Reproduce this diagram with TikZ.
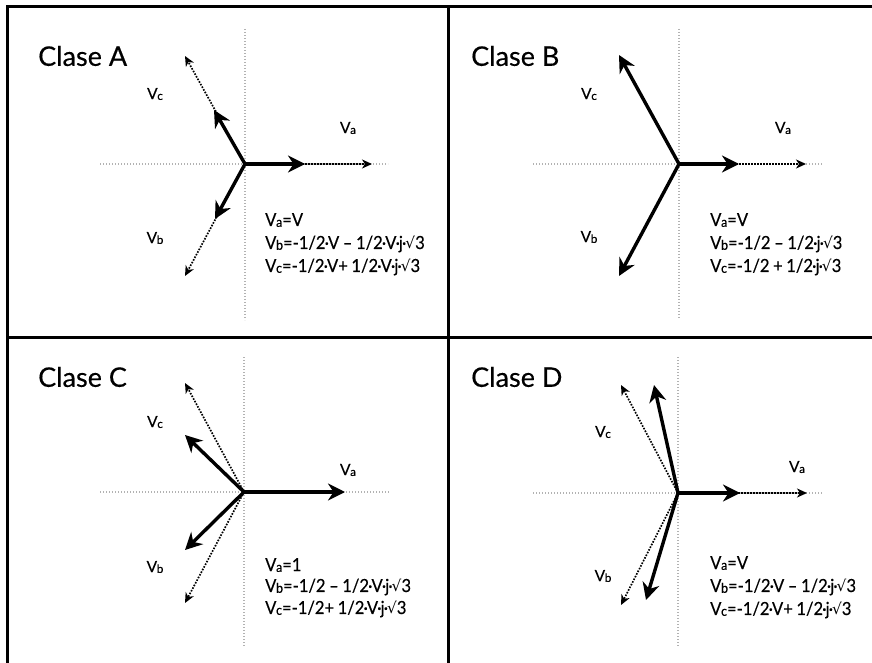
\documentclass[tikz,border=0pt]{standalone}
\usepackage{fontspec}
\setmainfont{Lato}[FakeBold=0.35]
\newfontfamily\eqfont{Lato}[FakeBold=0.35, FakeStretch=0.92]
\newfontfamily\symfont{DejaVu Sans}
\usetikzlibrary{arrows.meta}
\newcommand\Vsub[1]{V\kern-0.3pt\raisebox{-0.8pt}{\scalebox{0.75}{#1}}}
\newcommand\sqr{{\symfont\scalebox{0.85}{√}}}
\newcommand\md{\kern-0.9pt·\kern-0.9pt}
\newcommand\eqsetup{\eqfont\fontsize{18}{22}\selectfont\spaceskip 0.2em\relax}
\tikzset{
  frame/.style={line width=3pt, line cap=rect},
  axis/.style={gray!60, line width=1.1pt, dash pattern=on 1.1pt off 1.9pt},
  vsolid/.style={line width=3.4pt, -{Stealth[length=17pt,width=17pt,inset=5.5pt]}},
  vdot/.style={line width=1.7pt, dash pattern=on 1.6pt off 1.4pt, -{Stealth[length=10pt,width=9pt,inset=3pt]}},
  title/.style={anchor=west, inner sep=0pt, font=\fontsize{27}{30}\selectfont},
  vlab/.style={inner sep=0pt, font=\fontsize{15.5}{17}\selectfont},
  eq/.style={anchor=west, inner sep=0pt, font=\eqsetup},
}
\begin{document}
\begin{tikzpicture}[x=1pt,y=-1pt]
\useasboundingbox (0,0) rectangle (872,663);
% frame
\coordinate (tl) at (7,7);
\coordinate (tr) at (872,7);
\coordinate (bl) at (7,663);
\coordinate (mt) at (448,7);
\coordinate (mb) at (448,663);
\coordinate (ml) at (7,337);
\coordinate (mr) at (872,337);
\draw[frame] (tl) -- (tr);
\draw[frame] (tl) -- (bl);
\draw[frame] (mt) -- (mb);
\draw[frame] (ml) -- (mr);

% ---------- Panel A ----------
\coordinate (Ao) at (245,164);
\coordinate (Ah1) at (100,164); \coordinate (Ah2) at (388,164);
\coordinate (Av1) at (245,29);  \coordinate (Av2) at (245,320);
\draw[axis] (Ah1) -- (Ah2);
\draw[axis] (Av1) -- (Av2);
\coordinate (AaD) at (372,164); \coordinate (AaS) at (305,164);
\coordinate (AcD) at (185,56);  \coordinate (AcS) at (214,110);
\coordinate (AbD) at (185,276); \coordinate (AbS) at (215,219);
\draw[vdot] (Ao) -- (AaD);
\draw[vdot] (Ao) -- (AcD);
\draw[vdot] (Ao) -- (AbD);
\draw[vsolid] (Ao) -- (AaS);
\draw[vsolid] (Ao) -- (AcS);
\draw[vsolid] (Ao) -- (AbS);
\node[title] (Atitle) at (38,56) {Clase A};
\node[vlab] (Alc) at (155,94) {\Vsub{c}};
\node[vlab] (Ala) at (348,128) {\Vsub{a}};
\node[vlab] (Alb) at (155,238) {\Vsub{b}};
\node[eq] (Ae1) at (265,220) {\Vsub{a}=V};
\node[eq] (Ae2) at (265,244) {\Vsub{b}=-1/2\md V – 1/2\md V\md j\md\sqr3};
\node[eq] (Ae3) at (265,267) {\Vsub{c}=-1/2\md V+ 1/2\md V\md j\md\sqr3};

% ---------- Panel B ----------
\coordinate (Bo) at (679,164);
\coordinate (Bh1) at (533,164); \coordinate (Bh2) at (823,164);
\coordinate (Bv1) at (679,29);  \coordinate (Bv2) at (679,318);
\draw[axis] (Bh1) -- (Bh2);
\draw[axis] (Bv1) -- (Bv2);
\coordinate (BaD) at (806,164); \coordinate (BaS) at (739,164);
\coordinate (BcS) at (619,55);
\coordinate (BbS) at (619,276);
\draw[vdot] (Bo) -- (BaD);
\draw[vsolid] (Bo) -- (BaS);
\draw[vsolid] (Bo) -- (BcS);
\draw[vsolid] (Bo) -- (BbS);
\node[title] (Btitle) at (471,56) {Clase B};
\node[vlab] (Blc) at (589,94) {\Vsub{c}};
\node[vlab] (Bla) at (783,128) {\Vsub{a}};
\node[vlab] (Blb) at (589,237) {\Vsub{b}};
\node[eq] (Be1) at (710,220) {\Vsub{a}=V};
\node[eq] (Be2) at (710,244) {\Vsub{b}=-1/2 – 1/2\md j\md\sqr3};
\node[eq] (Be3) at (710,267) {\Vsub{c}=-1/2 + 1/2\md j\md\sqr3};

% ---------- Panel C ----------
\coordinate (Co) at (244,492);
\coordinate (Ch1) at (100,492); \coordinate (Ch2) at (390,492);
\coordinate (Cv1) at (244,357); \coordinate (Cv2) at (244,647);
\draw[axis] (Ch1) -- (Ch2);
\draw[axis] (Cv1) -- (Cv2);
\coordinate (CaS) at (345,492);
\coordinate (CcD) at (185,383); \coordinate (CcS) at (185,435);
\coordinate (CbD) at (185,603); \coordinate (CbS) at (185,550);
\draw[vdot] (Co) -- (CcD);
\draw[vdot] (Co) -- (CbD);
\draw[vsolid] (Co) -- (CaS);
\draw[vsolid] (Co) -- (CcS);
\draw[vsolid] (Co) -- (CbS);
\node[title] (Ctitle) at (38,377) {Clase C};
\node[vlab] (Clc) at (155,422) {\Vsub{c}};
\node[vlab] (Cla) at (348,470) {\Vsub{a}};
\node[vlab] (Clb) at (155,567) {\Vsub{b}};
\node[eq] (Ce1) at (265,565) {\Vsub{a}=1};
\node[eq] (Ce2) at (265,587) {\Vsub{b}=-1/2 – 1/2\md V\md j\md\sqr3};
\node[eq] (Ce3) at (265,609) {\Vsub{c}=-1/2+ 1/2\md V\md j\md\sqr3};

% ---------- Panel D ----------
\coordinate (Do) at (678,493);
\coordinate (Dh1) at (533,493); \coordinate (Dh2) at (823,493);
\coordinate (Dv1) at (678,357); \coordinate (Dv2) at (678,647);
\draw[axis] (Dh1) -- (Dh2);
\draw[axis] (Dv1) -- (Dv2);
\coordinate (DaD) at (807,493); \coordinate (DaS) at (740,493);
\coordinate (DcD) at (621,385); \coordinate (DcS) at (654,385);
\coordinate (DbD) at (621,605); \coordinate (DbS) at (646,600);
\draw[vdot] (Do) -- (DaD);
\draw[vdot] (Do) -- (DcD);
\draw[vdot] (Do) -- (DbD);
\draw[vsolid] (Do) -- (DaS);
\draw[vsolid] (Do) -- (DcS);
\draw[vsolid] (Do) -- (DbS);
\node[title] (Dtitle) at (471,377) {Clase D};
\node[vlab] (Dlc) at (603,432) {\Vsub{c}};
\node[vlab] (Dla) at (797,467) {\Vsub{a}};
\node[vlab] (Dlb) at (603,576) {\Vsub{b}};
\node[eq] (De1) at (710,563) {\Vsub{a}=V};
\node[eq] (De2) at (710,587) {\Vsub{b}=-1/2\md V – 1/2\md j\md\sqr3};
\node[eq] (De3) at (710,610) {\Vsub{c}=-1/2\md V+ 1/2\md j\md\sqr3};
\end{tikzpicture}
\end{document}
